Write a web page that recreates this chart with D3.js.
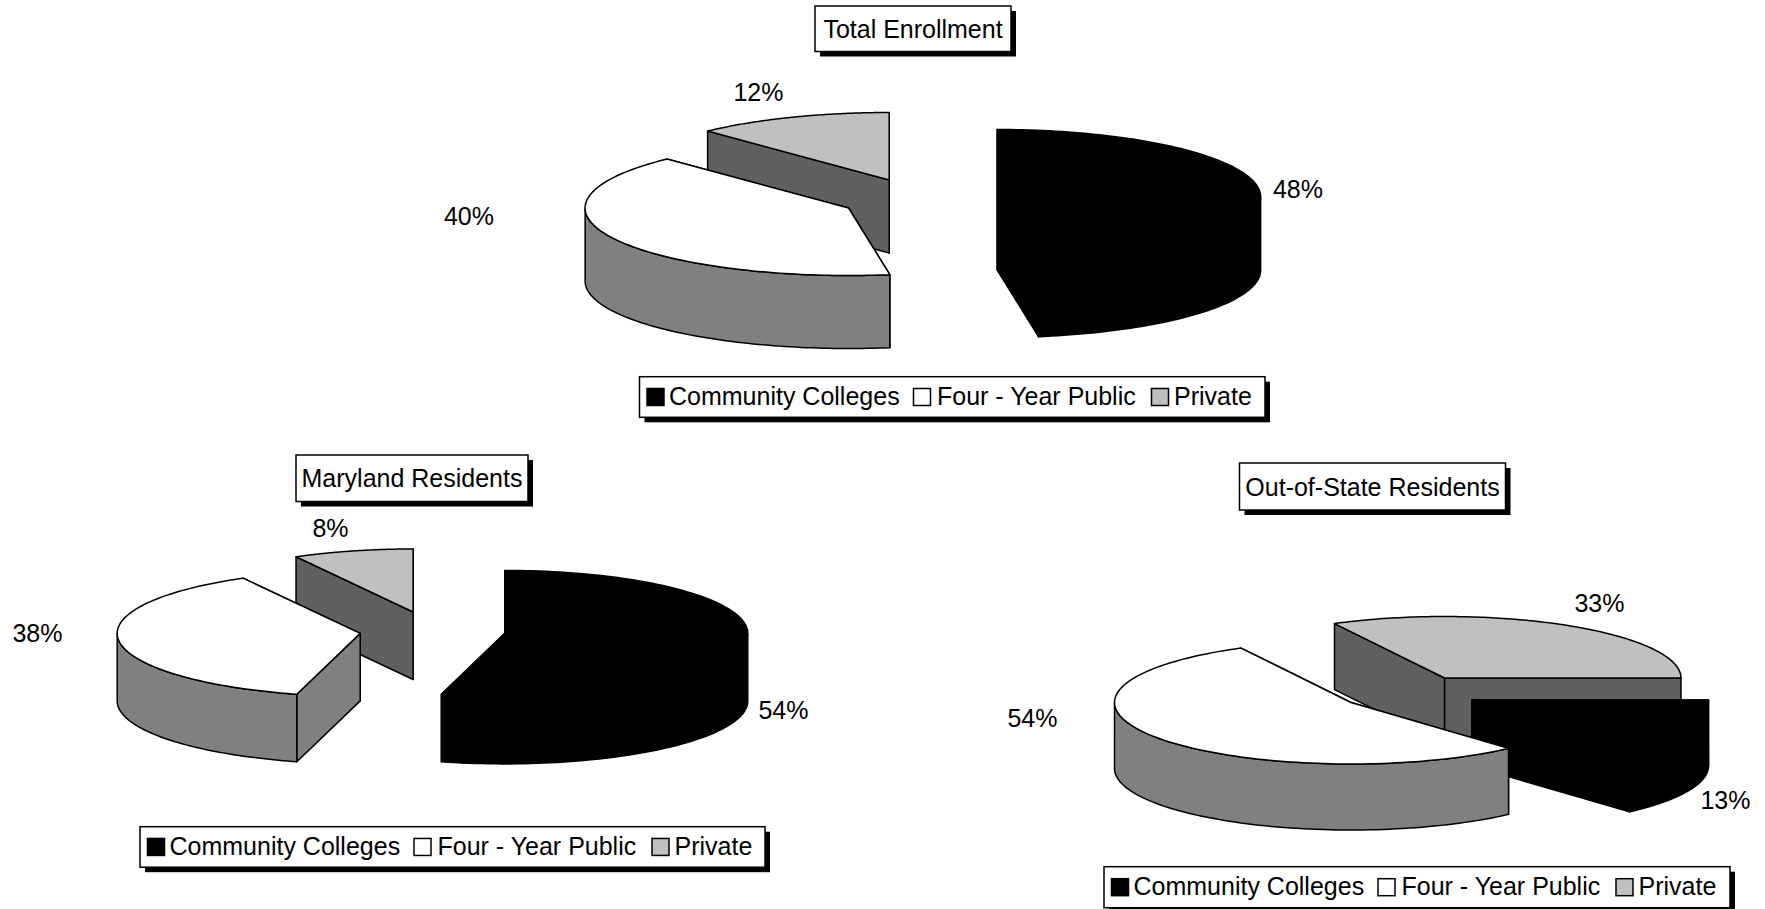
<!DOCTYPE html>
<html><head><meta charset="utf-8">
<script src="https://cdn.jsdelivr.net/npm/d3@7/dist/d3.min.js"></script>
<style>html,body{margin:0;padding:0;background:#fff}svg{display:block}text{font-family:"Liberation Sans",Arial,sans-serif;fill:#000}</style>
</head><body><svg id="c" width="1765" height="909"></svg>
<script>
// ---- data
const categories = ["Community Colleges", "Four - Year Public", "Private"];
const chartTitles = ["Total Enrollment", "Maryland Residents", "Out-of-State Residents"];
const totalValues = [47.5, 40.4, 12.1];
const marylandValues = [54.2, 37.8, 8.0];
const outOfStateValues = [13.4, 53.9, 32.7];

// ---- styles
const topFill = ["#000000", "#ffffff", "#c0c0c0"];
const outerWallFill = ["#000000", "#808080", "#606060"];
const cutWallFill = ["#000000", "#808080", "#606060"];
const FS = 25;

// ---- layout (per chart: pie start angle, ellipse radii, depth, exploded slice centres, label anchors, boxes)
const layouts = [
 { values: totalValues, start: 0, rx: 263.5, ry: 67.5, depth: 73,
   centres: [[997.2,197],[848.6,208],[889.2,180]],
   labels: [[1298,189],[469,216],[758.5,92]],
   title: {x:815,y:6,w:196,h:45.5}, legend: {x:639.5,y:376.7,w:625.5,h:40.6} },
 { values: marylandValues, start: 0, rx: 243, ry: 63, depth: 67.5,
   centres: [[504.8,633.4],[360.2,633.4],[413.1,612]],
   labels: [[783.5,710],[37.5,633],[330.5,528]],
   title: {x:296,y:455,w:232,h:46.5}, legend: {x:140,y:826.7,w:625,h:40.5} },
 { values: outOfStateValues, start: 90, rx: 236.5, ry: 61.5, depth: 66,
   centres: [[1472,700],[1351,702.5],[1444.5,678]],
   labels: [[1725.5,800],[1032.5,718],[1599.5,603]],
   title: {x:1239.5,y:463,w:266,h:47}, legend: {x:1104,y:866.7,w:626,h:41} }
];
const legendOffsets = [[7.5,29.5],[274,297.5],[512,534.5]];
const drawOrder = [2,0,1];

const svg = d3.select("#c");
const line = d3.line();
const rad = d => d*Math.PI/180;

function box(g, b, shadow){
  g.append("rect").attr("x",b.x+shadow).attr("y",b.y+shadow).attr("width",b.w).attr("height",b.h).attr("fill","#000");
  g.append("rect").attr("x",b.x).attr("y",b.y).attr("width",b.w).attr("height",b.h).attr("fill","#fff").attr("stroke","#000").attr("stroke-width",1.5);
}

layouts.forEach((L,li)=>{
  const g = svg.append("g");
  const pie = d3.pie().sort(null).startAngle(rad(L.start)).endAngle(rad(L.start+360));
  const arcs = pie(L.values);
  const r = d3.scaleLinear().domain([0,1]).range([0,L.rx]);
  const sy = d3.scaleLinear().domain([0,1]).range([0,L.ry]);
  drawOrder.forEach(i=>{
    const a = arcs[i];
    const [cx,cy] = L.centres[i];
    const px = (t,dz=0)=>[cx+r(Math.sin(t)), cy-sy(Math.cos(t))+dz];
    const samples = d3.range(0,121).map(k=>a.startAngle+(a.endAngle-a.startAngle)*k/120);
    const slice = g.append("g").attr("stroke","#000").attr("stroke-width",1.5).attr("stroke-linejoin","round");
    // cut faces: the far face first so that the near one hides its lower edge
    [a.endAngle,a.startAngle].forEach(t=>{
      slice.append("path").attr("fill",cutWallFill[i])
        .attr("d",line([[cx,cy],px(t),px(t,L.depth),[cx,cy+L.depth]])+"Z");
    });
    // outer rim, only where it faces the viewer
    const front = samples.filter(t=>Math.cos(t)<=0);
    if(front.length){
      const upper = front.map(t=>px(t));
      const lower = front.map(t=>px(t,L.depth)).reverse();
      slice.append("path").attr("fill",outerWallFill[i]).attr("d",line(upper.concat(lower))+"Z");
    }
    // top face
    slice.append("path").attr("fill",topFill[i])
      .attr("d",line([[cx,cy]].concat(samples.map(t=>px(t))))+"Z");
  });
  // percentage labels
  L.values.forEach((v,i)=>{
    g.append("text").attr("x",L.labels[i][0]).attr("y",L.labels[i][1]).attr("text-anchor","middle")
      .attr("dominant-baseline","central").attr("font-size",FS).text(d3.format(".0f")(v)+"%");
  });
  // title
  box(g,L.title,5);
  g.append("text").attr("x",L.title.x+L.title.w/2).attr("y",L.title.y+L.title.h/2).attr("text-anchor","middle")
    .attr("dominant-baseline","central").attr("font-size",FS).text(chartTitles[li]);
  // legend
  box(g,L.legend,5);
  categories.forEach((c,i)=>{
    const [sx,tx]=legendOffsets[i];
    g.append("rect").attr("x",L.legend.x+sx).attr("y",L.legend.y+L.legend.h/2-8.5).attr("width",17).attr("height",17)
      .attr("fill",topFill[i]).attr("stroke","#000").attr("stroke-width",1.5);
    g.append("text").attr("x",L.legend.x+tx).attr("y",L.legend.y+L.legend.h/2-1.2).attr("dominant-baseline","central")
      .attr("font-size",FS).text(c);
  });
});
</script></body></html>
